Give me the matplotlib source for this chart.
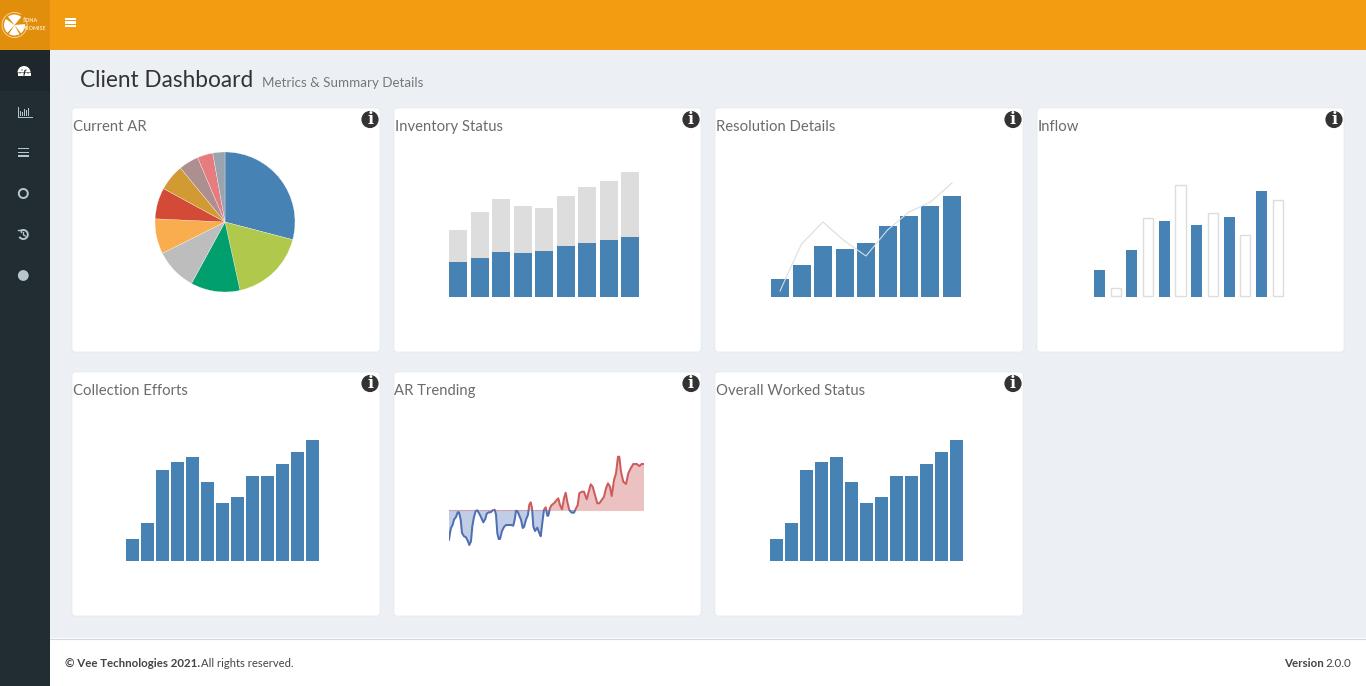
"""Client Dashboard screenshot: seven small charts inside an admin page layout."""
import numpy as np
import matplotlib
matplotlib.use("Agg")
import matplotlib.pyplot as plt
from matplotlib.patches import Arc, Circle, FancyBboxPatch, Rectangle, Wedge

W, H = 1366, 686
FONT = "Lato"
BLUE = "#4682b4"
LIGHT = "#dddddd"

# Current AR
ar_shares = [29.1, 17.5, 11.4, 9.7, 8.1, 7.2, 6.1, 4.6, 3.6, 2.8]
ar_colors = ["#4682b4", "#b0c94c", "#019e6e", "#bdbdbd", "#f9ad4e",
             "#d34b36", "#d19a33", "#ad8f90", "#e77c7f", "#99a4ae"]

# Inventory Status
inventory_worked = [35, 39, 45, 44, 46, 51, 54, 57, 60]
inventory_total = [67, 85, 98, 91, 89, 101, 110, 116, 125]

# Resolution Details
resolution_bars = [18, 32, 51, 48, 54, 71, 81, 91, 101]
resolution_line = [6, 53, 75, 56, 41, 67, 85, 95, 114]

# Inflow (solid and outlined bars alternate)
inflow_values = [27, 9, 47, 79, 76, 112, 72, 84, 80, 62, 106, 97]

# Collection Efforts and Overall Worked Status show the same numbers
effort_values = [22, 38, 91, 99, 104, 79, 58, 64, 85, 85, 97, 109, 121]

# AR Trending
trend_x = [0, 1, 2, 3.7, 5, 7, 8.7, 10, 11.7, 13, 15, 17, 19, 20.3, 22, 23.3, 25, 26.7,
           28.3, 30.3, 32.3, 34.3, 36.3, 37.7, 39.7, 41.7, 43.7, 45.7, 47, 48.3, 49.7,
           51, 53, 55, 57, 59.7, 62.3, 64.3, 65.7, 67, 68.7, 70.3, 72, 73.7, 75, 77, 79,
           80.3, 81.7, 83, 84.3, 86, 88.3, 90.3, 91.7, 93.3, 95, 96.7, 98.3, 99.3, 101,
           102.7, 105, 107.7, 109.3, 111, 113, 115, 116.7, 118.3, 120.3, 122.7, 125, 127,
           128.7, 130.3, 132.7, 135, 137.7, 139.7, 141.7, 143.7, 146, 148.3, 150.3, 152.7,
           155, 157, 159, 161, 162.7, 165, 167, 169, 170.3, 172, 174.3, 177, 179.3, 181.7,
           184.3, 187.7, 190.3, 192.7, 195]
trend_y = [-29.7, -23, -18, -14.7, -9.7, -7, -2.3, -2.3, -9.7, -23, -26.3, -27.3, -31.3, -35,
           -31.3, -16.3, -7, -1, -0.3, -3.7, -7.7, -12.3, -9, -3.7, -2.3, -2.3, -0.3, 0.3,
           -4.7, -23, -29, -29, -21, -17, -15, -15, -15, -15.7, -9.7, -0.7, -1.7, -5.7, -9.7,
           -18, -17, -9.7, -4.7, 5.3, 7.7, 2, -16.3, -21, -17.7, -23, -26.3, -13, 0.3, 2.7,
           -5.7, -5.7, 2, 5, 6.7, 10, 11.7, 5, 0.7, 11.7, 17.3, 8.3, 0, -2.7, -2.7, 1.7, 5,
           16.7, 18.3, 18.3, 10.7, 18.3, 25.7, 23.3, 15, 6.7, 6.7, 10, 13.3, 21.7, 26.7, 23.3,
           14, 30, 36.7, 53.3, 53.3, 38.3, 28.3, 26, 36.7, 41.7, 46, 46, 44, 46, 46]

card_titles = ["Current AR", "Inventory Status", "Resolution Details", "Inflow",
               "Collection Efforts", "AR Trending", "Overall Worked Status"]
card_boxes = [(72, 108, 308), (394, 108, 307), (715, 108, 308), (1037, 108, 307),
              (72, 372, 308), (394, 372, 307), (715, 372, 308)]
title_x = [73, 395, 716, 1038, 73, 394, 716]
info_x = [370, 691, 1013, 1334, 370, 691, 1013]


def px_axes(fig, left, top, width, height):
    ax = fig.add_axes([left / W, 1 - (top + height) / H, width / W, height / H])
    ax.axis("off")
    return ax


def bar_axes(fig, first_left, base, pitch, bar_w, n, height):
    """Axes whose y unit is one pixel and whose x unit is one bar slot."""
    left = first_left - (pitch - bar_w) / 2
    ax = px_axes(fig, left, base - height, pitch * n, height)
    ax.set_xlim(-0.5, n - 0.5)
    ax.set_ylim(0, height)
    return ax, bar_w / pitch


def box(bg, x, y, w, h, color):
    bg.add_patch(Rectangle((x, y), w, h, facecolor=color, edgecolor="none", lw=0))


def draw_page(bg):
    box(bg, 0, 0, W, H, "#ecf0f5")
    box(bg, 50, 0, W - 50, 50, "#f39c12")
    box(bg, 0, 0, 50, 50, "#e08e0b")
    box(bg, 0, 50, 50, H - 50, "#222d32")
    box(bg, 0, 50, 50, 41, "#1e282c")
    box(bg, 50, 638, W - 50, 48, "white")
    bg.plot([50, W], [638.5, 638.5], color="#d2d6de", lw=0.8)

    # logo
    bg.add_patch(Arc((14.5, 25), 25, 25, theta1=-40, theta2=300, ec="#f7dcae", lw=0.6))
    for a1, a2 in [(232, 310), (132, 215), (62, 122), (-5, 52)]:
        bg.add_patch(Wedge((14.5, 25), 10.5, a1, a2, facecolor="white", edgecolor="none", lw=0))
    bg.text(23, 21, "SONA", color="#fbe6c4", fontsize=3.9, fontweight="bold", va="center",
            family=FONT)
    bg.text(23, 28, "PROMISE", color="#fbe6c4", fontsize=3.9, fontweight="bold", va="center",
            family=FONT)

    # header hamburger
    for y in (19, 22.5, 26):
        box(bg, 65, y - 1.1, 11, 2.2, "white")

    # sidebar icons
    side = "#b8c7ce"
    bg.add_patch(Wedge((24, 72.5), 6.5, 180, 360, facecolor="white", edgecolor="none", lw=0))
    box(bg, 17.5, 72.5, 13, 3, "white")
    for dx, dy in [(-4, 0.5), (-2, -2.5), (2, -2.5), (4, 0.5)]:
        bg.add_patch(Circle((24 + dx, 72.5 + dy), 0.6, facecolor="#1e282c", edgecolor="none", lw=0))
    bg.plot([24, 25], [75, 70.5], color="#1e282c", lw=0.9)
    for i, h in enumerate([5, 4, 7, 6, 8]):
        box(bg, 20 + i * 2, 116 - h, 1.4, h, side)
    bg.plot([18.2, 32], [116.5, 116.5], color=side, lw=0.7)
    bg.plot([18.2, 18.2], [107, 116.5], color=side, lw=0.7)
    for y in (148.5, 152.5, 156):
        box(bg, 18, y - 0.9, 11, 1.8, side)
    bg.add_patch(Circle((23.3, 193.5), 4.5, fill=False, ec=side, lw=1.4))
    bg.add_patch(Arc((23.3, 234.5), 9, 9, theta1=-130, theta2=150, ec=side, lw=1.4))
    bg.plot([18.3, 20.5, 20.5], [229.5, 229.5, 232], color=side, lw=1.0)
    bg.plot([23.5, 23.5, 25.5], [232.5, 235, 236], color=side, lw=0.9)
    bg.add_patch(Circle((23.3, 275.5), 5.4, facecolor=side, edgecolor="none", lw=0))

    # heading
    bg.text(80.5, 87, "Client Dashboard", fontsize=16.3, color="#333333", family=FONT,
            va="baseline")
    bg.text(262, 87, "Metrics & Summary Details", fontsize=9.65, color="#777777", family=FONT,
            va="baseline")

    # cards
    for i, (x, y, w) in enumerate(card_boxes):
        bg.add_patch(FancyBboxPatch((x + 3, y + 3), w - 6, 238, boxstyle="round,pad=3,rounding_size=3",
                                    facecolor="white", edgecolor="#dfe3ea", lw=0.4))
        bg.text(title_x[i], y + 19, card_titles[i], fontsize=10.7, color="#6c6c6c", family=FONT,
                va="center")
        cx, cy = info_x[i], y + 11.5
        bg.add_patch(Circle((cx, cy), 8.6, facecolor="#333333", edgecolor="none", lw=0))
        bg.text(cx, cy + 0.3, "i", color="white", fontsize=11.5, fontweight="bold",
                family="DejaVu Serif", ha="center", va="center")

    # footer
    bg.text(65, 663.5, "© Vee Technologies 2021.", fontsize=8.3, fontweight="bold", color="#444444",
            family=FONT, va="center")
    bg.text(201, 663.5, "All rights reserved.", fontsize=8.15, color="#444444", family=FONT,
            va="center")
    bg.text(1324, 663.5, "Version", fontsize=8.3, fontweight="bold", color="#444444", family=FONT,
            va="center", ha="right")
    bg.text(1351, 663.5, "2.0.0", fontsize=8.3, color="#444444", family=FONT, va="center", ha="right")


def draw_pie(fig):
    ax = px_axes(fig, 225 - 73.5, 222 - 73.5, 147, 147)
    ax.pie(ar_shares, colors=ar_colors, startangle=90, counterclock=False, radius=1,
           wedgeprops={"edgecolor": "white", "linewidth": 0.2})
    ax.set_xlim(-1.05, 1.05)
    ax.set_ylim(-1.05, 1.05)


def draw_inventory(fig):
    ax, w = bar_axes(fig, 449, 297, 21.5, 18, len(inventory_total), 130)
    x = np.arange(len(inventory_total))
    ax.bar(x, inventory_total, width=w, color=LIGHT)
    ax.bar(x, inventory_worked, width=w, color=BLUE)


def draw_resolution(fig):
    ax, w = bar_axes(fig, 771, 297, 21.5, 18, len(resolution_bars), 120)
    x = np.arange(len(resolution_bars))
    ax.bar(x, resolution_bars, width=w, color=BLUE)
    ax.plot(x, resolution_line, color=LIGHT, lw=0.8)


def draw_inflow(fig):
    ax, w = bar_axes(fig, 1094, 297, 16.2, 11, len(inflow_values), 116)
    for i, v in enumerate(inflow_values):
        if i % 2 == 0:
            ax.bar(i, v, width=w, color=BLUE)
        else:
            ax.bar(i, v - 0.5, bottom=0.5, width=w * 0.92, facecolor="white", edgecolor=LIGHT,
                   lw=1.0, clip_on=False)


def draw_efforts(fig, first_left):
    ax, w = bar_axes(fig, first_left, 561, 15, 13, len(effort_values), 125)
    ax.bar(np.arange(len(effort_values)), effort_values, width=w, color=BLUE)


def draw_trend(fig):
    ax = px_axes(fig, 449, 445, 195, 105)
    ax.set_xlim(0, 195)
    ax.set_ylim(-40, 65)
    x = np.array(trend_x)
    y = np.array(trend_y)
    red, blue = "#cd5c5c", "#4f6fb5"
    ax.fill_between(x, 0, y, where=y >= 0, interpolate=True, color=red, alpha=0.38, lw=0)
    ax.fill_between(x, 0, y, where=y <= 0, interpolate=True, color=blue, alpha=0.35, lw=0)
    ax.axhline(0, color=red, alpha=0.35, lw=0.8)
    for color, y0, y1 in [(red, 0, 65), (blue, -40, 0)]:
        line, = ax.plot(x, y, color=color, lw=1.45, solid_joinstyle="round", clip_on=True)
        line.set_clip_path(Rectangle((0, y0), 195, y1 - y0, transform=ax.transData))


def main():
    fig = plt.figure(figsize=(W / 100, H / 100), dpi=100)
    bg = fig.add_axes([0, 0, 1, 1])
    bg.set_xlim(0, W)
    bg.set_ylim(H, 0)
    bg.axis("off")
    draw_page(bg)

    draw_pie(fig)
    draw_inventory(fig)
    draw_resolution(fig)
    draw_inflow(fig)
    draw_efforts(fig, 126)
    draw_trend(fig)
    draw_efforts(fig, 770)

    fig.savefig("out.png", dpi=100)


if __name__ == "__main__":
    main()
